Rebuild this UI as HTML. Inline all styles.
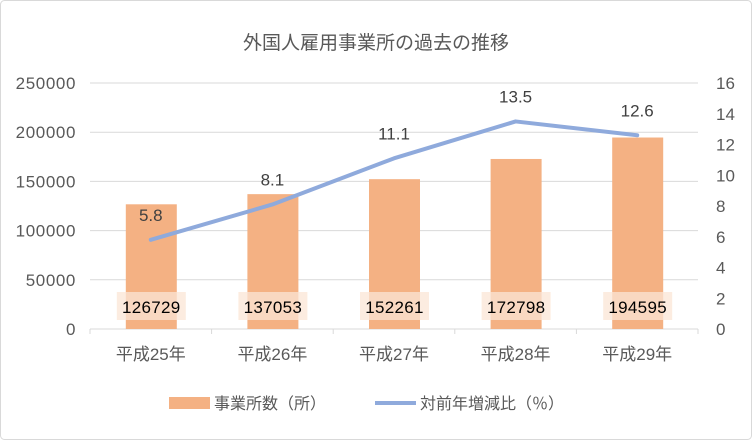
<!DOCTYPE html>
<html><head><meta charset="utf-8"><style>
body{margin:0;background:#fff}
text{font-family:"Liberation Sans","Noto Sans CJK JP",sans-serif}
</style></head><body>
<svg width="752" height="440" xmlns="http://www.w3.org/2000/svg">
<rect x="0.5" y="0.5" width="751" height="439" fill="#fff" stroke="#d9d9d9" rx="4"/>
<text x="376" y="49" text-anchor="middle" font-size="19" fill="#595959">外国人雇用事業所の過去の推移</text>
<g id="g"></g>
<rect x="169" y="397" width="41" height="12" fill="#f4b183"/>
<text x="214" y="409" font-size="16" fill="#595959">事業所数（所）</text>
<line x1="375" y1="403" x2="416" y2="403" stroke="#8faadc" stroke-width="4"/>
<text x="420" y="409" font-size="16" fill="#595959">対前年増減比（％）</text>
</svg>
<script>
const categories=["平成25年","平成26年","平成27年","平成28年","平成29年"];
const counts=[126729,137053,152261,172798,194595];
const ratios=[5.8,8.1,11.1,13.5,12.6];
const leftTicks=[0,50000,100000,150000,200000,250000];
const rightTicks=[0,2,4,6,8,10,12,14,16];
const NS="http://www.w3.org/2000/svg";
const g=document.getElementById('g');
const x0=90,x1=698,yb=329,yt=83;
const yL=v=>yb-v/250000*(yb-yt);
const yR=v=>yb-v/16*(yb-yt);
const step=(x1-x0)/categories.length;
const xC=i=>x0+step*(i+0.5);
function mk(t,a,txt){const e=document.createElementNS(NS,t);for(const k in a)e.setAttribute(k,a[k]);if(txt!==undefined)e.textContent=txt;g.appendChild(e);return e;}
leftTicks.forEach(v=>{
 const l=mk('line',{x1:x0,x2:x1,y1:yL(v),y2:yL(v),stroke:'#d9d9d9'});
 
 const t=mk('text',{x:76,y:yL(v)+6,'text-anchor':'end','font-size':17,'letter-spacing':0.6,fill:'#595959'},v);
 
});
rightTicks.forEach(v=>{
 const t=mk('text',{x:716,y:yR(v)+6,'font-size':17,fill:'#595959'},v);
 
});
for(let i=0;i<=categories.length;i++){
 const l=mk('line',{x1:x0+step*i,x2:x0+step*i,y1:yb,y2:yb+5,stroke:'#d9d9d9'});
 
}
categories.forEach((c,i)=>{
 const b=mk('rect',{x:xC(i)-25,y:yL(counts[i]),width:51,height:yb-yL(counts[i]),fill:'#f4b183'});
 
 const bx=mk('rect',{x:xC(i)-34,y:292,width:69,height:28,fill:'#fbe5d6',opacity:0.75});
 
 const t=mk('text',{x:xC(i)+0.5,y:313,'text-anchor':'middle','font-size':17,'letter-spacing':0.3,fill:'#000'},counts[i]);
 
 const ct=mk('text',{x:xC(i),y:360,'text-anchor':'middle','font-size':17,fill:'#595959'},c);
 
});
const line=mk('polyline',{points:ratios.map((v,i)=>xC(i)+','+yR(v)).join(' '),fill:'none',stroke:'#8faadc','stroke-width':4,'stroke-linejoin':'round','stroke-linecap':'round'});

ratios.forEach((v,i)=>{
 const t=mk('text',{x:xC(i),y:yR(v)-19,'text-anchor':'middle','font-size':17,fill:'#404040'},v);
 
});
</script>
</body></html>
